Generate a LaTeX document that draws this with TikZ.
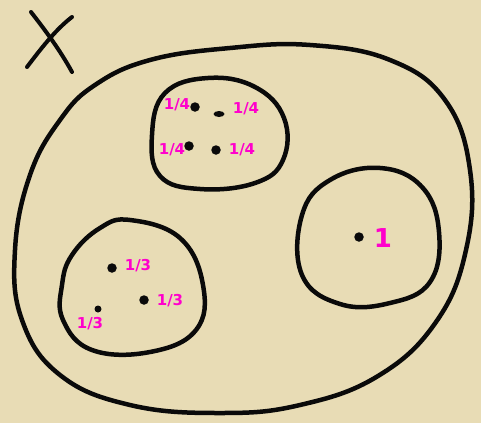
\documentclass[tikz,border=0pt]{standalone}
\usepackage{fontspec}
\setmainfont{DejaVu Sans}
\usetikzlibrary{shapes.geometric}
\definecolor{paper}{RGB}{232,220,181}
\definecolor{ink}{RGB}{10,10,10}
\definecolor{pink}{RGB}{255,0,204}
\tikzset{
  blob/.style={draw=ink,line width=4.5pt,line cap=round,line join=round},
  pt/.style={circle,fill=ink,inner sep=0pt,minimum size=9.5pt},
  lab/.style={text=pink,font=\bfseries\fontsize{15}{15}\selectfont,inner sep=0pt}
}
\begin{document}
\begin{tikzpicture}[x=1pt,y=-1pt]
\fill[paper] (0,0) rectangle (481,423);
\useasboundingbox (0,0) rectangle (481,423);
% X
\draw[blob,line width=4pt] (31,12) .. controls (45,30) and (60,50) .. (72,72);
\draw[blob,line width=4pt] (72,17) .. controls (55,30) and (40,50) .. (27,67);
% outer set
\draw[blob] plot[smooth cycle,tension=0.7] coordinates {(95,85) (150,60) (230,48) (310,45) (390,60) (445,100) (470,170) (466,250) (436,322) (378,376) (300,405) (220,413) (130,405) (60,375) (22,320) (15,250) (30,175) (60,120)};
% top blob
\draw[blob] plot[smooth cycle,tension=0.7] coordinates {(165,93) (208,78) (255,87) (284,118) (283,160) (255,183) (200,189) (160,176) (152,135)};
% bottom-left blob
\draw[blob] plot[smooth cycle,tension=0.7] coordinates {(72,255) (100,228) (130,220) (180,238) (203,285) (196,330) (150,352) (92,350) (63,320) (62,285)};
% right blob
\draw[blob] plot[smooth cycle,tension=0.7] coordinates {(302,215) (330,180) (380,168) (422,187) (439,232) (430,282) (390,303) (340,304) (302,275)};
% points
\node[pt] (a1) at (195,107) {};
\node[ellipse,fill=ink,inner sep=0pt,minimum width=11pt,minimum height=6pt] (a2) at (219,114) {};
\node[pt] (a3) at (189,146) {};
\node[pt] (a4) at (216,150) {};
\node[pt] (b1) at (112,268) {};
\node[pt] (b2) at (144,300) {};
\node[pt,minimum size=7pt] (b3) at (98,309) {};
\node[pt] (c1) at (359,237) {};
% labels
\node[lab] (la1) at (177,105) {1/4};
\node[lab] (la2) at (246,109) {1/4};
\node[lab] (la3) at (172,150) {1/4};
\node[lab] (la4) at (242,150) {1/4};
\node[lab] (lb1) at (138,266) {1/3};
\node[lab] (lb2) at (170,301) {1/3};
\node[lab] (lb3) at (90,324) {1/3};
\node[lab,font=\bfseries\fontsize{26}{26}\selectfont] (lc1) at (383,238) {1};
\end{tikzpicture}
\end{document}
